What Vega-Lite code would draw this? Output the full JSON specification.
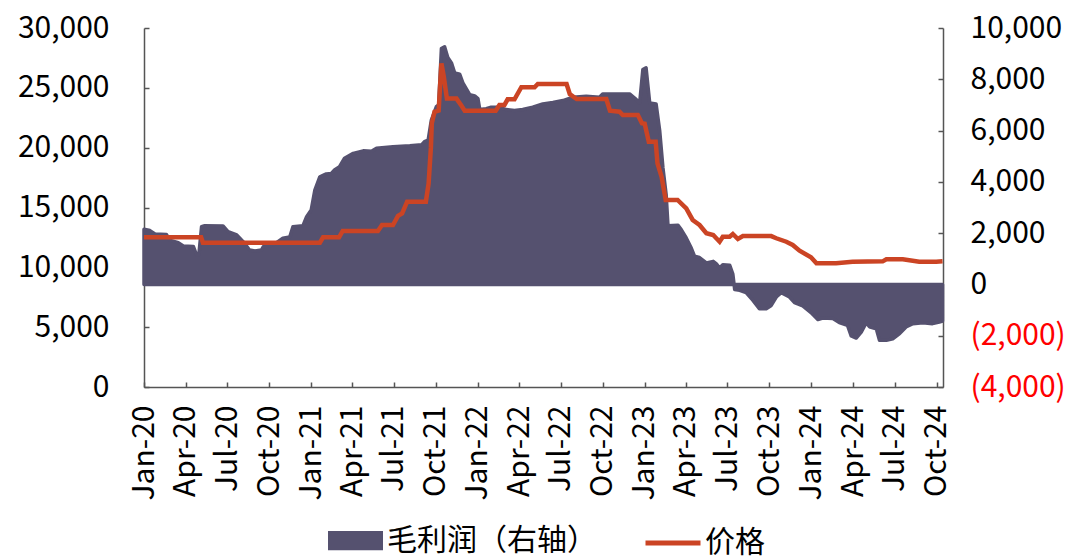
{
 "$schema": "https://vega.github.io/schema/vega-lite/v6.json",
 "width": 799, "height": 359,
 "autosize": {"type": "none"},
 "padding": {"left": 144, "top": 28, "right": 130, "bottom": 173},
 "background": "white",
 "config": {
  "view": {"stroke": null},
  "font": "Noto Sans CJK SC",
  "axis": {"labelFont": "Noto Sans CJK SC", "labelFontSize": 30, "labelColor": "#000000", "grid": false,
           "domainColor": "#555555", "domainWidth": 1.5, "tickColor": "#555555", "tickWidth": 1.5, "tickSize": -5},
  "legend": {"labelFont": "Noto Sans CJK SC", "labelFontSize": 30, "labelColor": "#000000", "padding": 0, "labelLimit": 500}
 },
 "datasets": {
  "price": [
   {"date": "2020-01-01", "price": 12510}, {"date": "2020-05-05", "price": 12510}, {"date": "2020-05-09", "price": 12060},
   {"date": "2021-01-20", "price": 12060}, {"date": "2021-01-27", "price": 12510}, {"date": "2021-03-03", "price": 12510},
   {"date": "2021-03-11", "price": 13040}, {"date": "2021-05-27", "price": 13040}, {"date": "2021-06-05", "price": 13540},
   {"date": "2021-06-29", "price": 13540}, {"date": "2021-07-10", "price": 14300}, {"date": "2021-07-19", "price": 14500},
   {"date": "2021-07-30", "price": 15490}, {"date": "2021-09-09", "price": 15490}, {"date": "2021-09-15", "price": 17000},
   {"date": "2021-09-20", "price": 20000}, {"date": "2021-09-22", "price": 22040}, {"date": "2021-09-28", "price": 23000},
   {"date": "2021-10-07", "price": 23100}, {"date": "2021-10-13", "price": 27050}, {"date": "2021-10-18", "price": 26000},
   {"date": "2021-10-25", "price": 24100}, {"date": "2021-11-15", "price": 24100}, {"date": "2021-11-26", "price": 23500},
   {"date": "2021-12-03", "price": 23090}, {"date": "2022-02-09", "price": 23090}, {"date": "2022-02-17", "price": 23570},
   {"date": "2022-02-28", "price": 23570}, {"date": "2022-03-07", "price": 24040}, {"date": "2022-03-22", "price": 24040},
   {"date": "2022-04-06", "price": 25050}, {"date": "2022-05-05", "price": 25050}, {"date": "2022-05-12", "price": 25320},
   {"date": "2022-07-14", "price": 25320}, {"date": "2022-07-21", "price": 24480}, {"date": "2022-08-05", "price": 24070},
   {"date": "2022-10-09", "price": 24070}, {"date": "2022-10-17", "price": 23090}, {"date": "2022-11-07", "price": 23000},
   {"date": "2022-11-14", "price": 22730}, {"date": "2022-12-17", "price": 22730}, {"date": "2022-12-26", "price": 22040},
   {"date": "2023-01-01", "price": 22000}, {"date": "2023-01-10", "price": 20500}, {"date": "2023-01-25", "price": 20500},
   {"date": "2023-01-29", "price": 18690}, {"date": "2023-02-07", "price": 17570}, {"date": "2023-02-16", "price": 15630},
   {"date": "2023-03-14", "price": 15630}, {"date": "2023-04-02", "price": 14930}, {"date": "2023-04-16", "price": 13960},
   {"date": "2023-05-01", "price": 13540}, {"date": "2023-05-16", "price": 12850}, {"date": "2023-05-31", "price": 12700},
   {"date": "2023-06-14", "price": 12140}, {"date": "2023-06-21", "price": 12560}, {"date": "2023-07-06", "price": 12560},
   {"date": "2023-07-13", "price": 12790}, {"date": "2023-07-24", "price": 12370}, {"date": "2023-08-04", "price": 12610},
   {"date": "2023-10-05", "price": 12610}, {"date": "2023-10-16", "price": 12430}, {"date": "2023-11-07", "price": 12140},
   {"date": "2023-11-21", "price": 11870}, {"date": "2023-12-06", "price": 11390}, {"date": "2023-12-31", "price": 10840},
   {"date": "2024-01-12", "price": 10340}, {"date": "2024-02-24", "price": 10340}, {"date": "2024-03-31", "price": 10470},
   {"date": "2024-06-05", "price": 10500}, {"date": "2024-06-13", "price": 10670}, {"date": "2024-07-19", "price": 10670},
   {"date": "2024-08-24", "price": 10470}, {"date": "2024-09-30", "price": 10470}, {"date": "2024-10-14", "price": 10500}
  ],
  "profit": [
   {"date": "2020-01-01", "profit": 2150}, {"date": "2020-01-14", "profit": 2100}, {"date": "2020-01-25", "profit": 1965},
   {"date": "2020-02-19", "profit": 1950}, {"date": "2020-02-26", "profit": 1730}, {"date": "2020-03-16", "profit": 1630},
   {"date": "2020-03-27", "profit": 1500}, {"date": "2020-04-18", "profit": 1480}, {"date": "2020-04-25", "profit": 1150},
   {"date": "2020-04-30", "profit": 1150}, {"date": "2020-05-06", "profit": 2250}, {"date": "2020-05-13", "profit": 2290},
   {"date": "2020-06-22", "profit": 2280}, {"date": "2020-07-03", "profit": 2060}, {"date": "2020-07-22", "profit": 1930},
   {"date": "2020-08-05", "profit": 1670}, {"date": "2020-08-19", "profit": 1340}, {"date": "2020-08-31", "profit": 1300},
   {"date": "2020-09-14", "profit": 1340}, {"date": "2020-09-18", "profit": 1470}, {"date": "2020-10-10", "profit": 1540},
   {"date": "2020-10-31", "profit": 1800}, {"date": "2020-11-15", "profit": 1850}, {"date": "2020-11-22", "profit": 2250},
   {"date": "2020-12-14", "profit": 2290}, {"date": "2020-12-22", "profit": 2640}, {"date": "2021-01-01", "profit": 2900},
   {"date": "2021-01-09", "profit": 3680}, {"date": "2021-01-20", "profit": 4200}, {"date": "2021-02-03", "profit": 4310},
   {"date": "2021-02-14", "profit": 4330}, {"date": "2021-02-21", "profit": 4460}, {"date": "2021-03-04", "profit": 4590},
   {"date": "2021-03-15", "profit": 4920}, {"date": "2021-04-03", "profit": 5110}, {"date": "2021-04-25", "profit": 5210},
   {"date": "2021-05-13", "profit": 5190}, {"date": "2021-05-24", "profit": 5310}, {"date": "2021-06-29", "profit": 5370},
   {"date": "2021-08-05", "profit": 5410}, {"date": "2021-08-31", "profit": 5450}, {"date": "2021-09-06", "profit": 5570},
   {"date": "2021-09-14", "profit": 5630}, {"date": "2021-09-21", "profit": 6410}, {"date": "2021-10-02", "profit": 6930},
   {"date": "2021-10-07", "profit": 7000}, {"date": "2021-10-13", "profit": 9200}, {"date": "2021-10-20", "profit": 9270},
   {"date": "2021-10-27", "profit": 8850}, {"date": "2021-11-04", "profit": 8640}, {"date": "2021-11-11", "profit": 8250},
   {"date": "2021-11-22", "profit": 8200}, {"date": "2021-11-29", "profit": 7860}, {"date": "2021-12-14", "profit": 7400},
   {"date": "2021-12-25", "profit": 7350}, {"date": "2022-01-01", "profit": 7250}, {"date": "2022-01-05", "profit": 6820},
   {"date": "2022-01-19", "profit": 6850}, {"date": "2022-01-30", "profit": 6910}, {"date": "2022-02-17", "profit": 6910},
   {"date": "2022-03-04", "profit": 6820}, {"date": "2022-03-22", "profit": 6780}, {"date": "2022-04-09", "profit": 6820},
   {"date": "2022-05-01", "profit": 6910}, {"date": "2022-05-23", "profit": 7040}, {"date": "2022-06-14", "profit": 7100},
   {"date": "2022-07-06", "profit": 7170}, {"date": "2022-07-28", "profit": 7300}, {"date": "2022-08-26", "profit": 7340},
   {"date": "2022-09-24", "profit": 7300}, {"date": "2022-10-01", "profit": 7430}, {"date": "2022-11-29", "profit": 7430},
   {"date": "2022-12-10", "profit": 7270}, {"date": "2022-12-21", "profit": 7080}, {"date": "2022-12-28", "profit": 8380},
   {"date": "2023-01-04", "profit": 8450}, {"date": "2023-01-12", "profit": 7080}, {"date": "2023-01-26", "profit": 7040},
   {"date": "2023-02-03", "profit": 5970}, {"date": "2023-02-10", "profit": 4540}, {"date": "2023-02-17", "profit": 3500},
   {"date": "2023-02-21", "profit": 2290}, {"date": "2023-03-15", "profit": 2310}, {"date": "2023-03-22", "profit": 2140},
   {"date": "2023-04-02", "profit": 1810}, {"date": "2023-04-13", "profit": 1420}, {"date": "2023-04-20", "profit": 1100},
   {"date": "2023-05-01", "profit": 1050}, {"date": "2023-05-16", "profit": 840}, {"date": "2023-05-31", "profit": 900},
   {"date": "2023-06-07", "profit": 800}, {"date": "2023-06-14", "profit": 640}, {"date": "2023-06-21", "profit": 770},
   {"date": "2023-07-06", "profit": 750}, {"date": "2023-07-13", "profit": 400}, {"date": "2023-07-17", "profit": -200},
   {"date": "2023-07-28", "profit": -230}, {"date": "2023-08-11", "profit": -320}, {"date": "2023-08-26", "profit": -620},
   {"date": "2023-09-09", "profit": -950}, {"date": "2023-09-24", "profit": -950}, {"date": "2023-10-05", "profit": -820},
   {"date": "2023-10-16", "profit": -490}, {"date": "2023-10-27", "profit": -320}, {"date": "2023-11-14", "profit": -490},
   {"date": "2023-11-25", "profit": -710}, {"date": "2023-12-13", "profit": -840}, {"date": "2023-12-31", "profit": -1100},
   {"date": "2024-01-15", "profit": -1370}, {"date": "2024-01-26", "profit": -1310}, {"date": "2024-02-17", "profit": -1330},
   {"date": "2024-03-02", "profit": -1490}, {"date": "2024-03-20", "profit": -1600}, {"date": "2024-03-28", "profit": -2010},
   {"date": "2024-04-08", "profit": -2090}, {"date": "2024-04-19", "profit": -1860}, {"date": "2024-04-30", "profit": -1490},
   {"date": "2024-05-07", "profit": -1650}, {"date": "2024-05-22", "profit": -1730}, {"date": "2024-05-29", "profit": -2180},
   {"date": "2024-06-13", "profit": -2180}, {"date": "2024-06-27", "profit": -2120}, {"date": "2024-07-12", "profit": -1920},
   {"date": "2024-07-26", "profit": -1660}, {"date": "2024-08-10", "profit": -1530}, {"date": "2024-09-01", "profit": -1490},
   {"date": "2024-09-22", "profit": -1530}, {"date": "2024-10-07", "profit": -1470}, {"date": "2024-10-14", "profit": -1430}
  ]
 },
 "layer": [
  {
   "data": {"name": "profit"},
   "mark": {"type": "area", "interpolate": "linear", "color": "#55516F", "stroke": "#55516F", "strokeWidth": 3.5, "strokeJoin": "round"},
   "encoding": {
    "x": {"field": "date", "type": "temporal",
          "scale": {"domain": ["2020-01-01", "2024-10-15"]},
          "axis": {"title": null, "format": "%b-%y", "tickCount": {"interval": "month", "step": 3}, "labelAngle": -90, "labelPadding": 23, "labelFlush": false, "labelOverlap": false}},
    "y": {"field": "profit", "type": "quantitative", "stack": null,
          "scale": {"domain": [-4000, 10000], "nice": false, "zero": false},
          "axis": {"orient": "right", "title": null, "values": [-4000, -2000, 0, 2000, 4000, 6000, 8000, 10000], "labelPadding": 32,
                   "labelExpr": "datum.value < 0 ? '(' + format(-datum.value, ',') + ')' : format(datum.value, ',')",
                   "labelColor": {"condition": {"test": "datum.value < 0", "value": "#FF0000"}, "value": "#000000"}}},
    "y2": {"datum": 0},
    "fill": {"datum": "毛利润（右轴）", "type": "nominal", "scale": {"range": ["#55516F"]},
             "legend": {"orient": "none", "legendX": 184, "legendY": 485, "title": null, "symbolType": "M-1,-0.35L1,-0.35L1,0.35L-1,0.35Z", "symbolSize": 3025, "symbolStrokeWidth": 0, "symbolOpacity": 1, "labelOffset": 4, "labelLimit": 500}}
   }
  },
  {
   "data": {"name": "price"},
   "mark": {"type": "line", "strokeWidth": 4.5, "interpolate": "linear", "color": "#CB4424"},
   "encoding": {
    "x": {"field": "date", "type": "temporal"},
    "y": {"field": "price", "type": "quantitative",
          "scale": {"domain": [0, 30000], "nice": false},
          "axis": {"orient": "left", "title": null, "values": [0, 5000, 10000, 15000, 20000, 25000, 30000], "labelExpr": "format(datum.value, ',')", "labelPadding": 40}},
    "stroke": {"datum": "价格", "type": "nominal", "scale": {"range": ["#CB4424"]},
               "legend": {"orient": "none", "legendX": 499, "legendY": 485, "title": null, "symbolType": "stroke", "symbolSize": 3025, "symbolStrokeWidth": 5, "labelOffset": 2, "labelLimit": 500}}
   }
  }
 ],
 "resolve": {"scale": {"y": "independent"}}
}
